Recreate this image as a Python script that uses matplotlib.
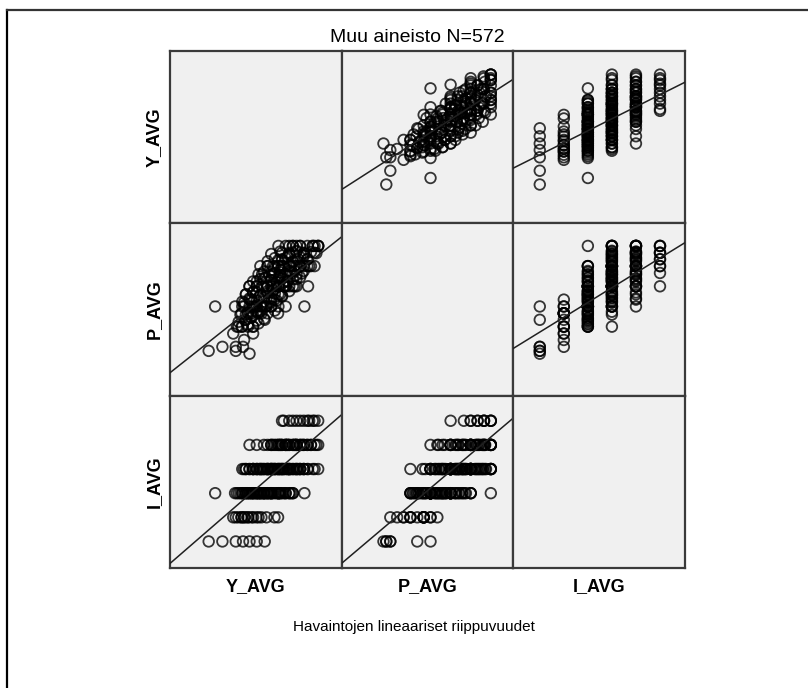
import matplotlib
matplotlib.use("Agg")
import matplotlib.pyplot as plt
from matplotlib.lines import Line2D
import numpy as np

plt.rcParams['font.family'] = ['Liberation Sans', 'DejaVu Sans']

title = "Muu aineisto N=572"
subtitle = "Havaintojen lineaariset riippuvuudet"
var_names = ["Y_AVG", "P_AVG", "I_AVG"]

# axis ranges of each variable (SPSS auto range)
y_limits = (0.9, 5.65)
p_limits = (0.79, 5.06)
i_limits = (1.95, 5.52)

# observations grouped by I_AVG level (Y_AVG, P_AVG pairs)
i_levels = [2.5, 3.0, 3.5, 4.0, 4.5, 5.0]

y_i1 = [1.97, 2.35, 2.72, 2.92, 3.10, 3.30, 3.52]
p_i1 = [1.90, 2.00, 1.90, 2.00, 1.83, 3.00, 2.67]

y_i2 = [2.65, 2.72, 2.79, 2.88, 2.88, 2.95, 2.97, 3.06, 3.06, 3.16, 3.20, 3.29, 3.35, 3.43, 3.57, 3.79, 3.89]
p_i2 = [2.33, 2.00, 2.50, 2.50, 2.83, 2.17, 2.67, 2.83, 2.50, 2.83, 2.33, 3.00, 2.83, 2.83, 3.00, 3.17, 2.83]

y_i3 = [2.75, 2.90, 3.05, 3.20, 3.35,
        2.80, 3.00, 3.15, 3.30, 3.50,
        2.85, 3.05, 3.20, 3.40, 3.60, 3.80,
        2.15, 2.70, 2.90, 3.10, 3.25, 3.40, 3.55, 3.70, 3.90, 4.10, 4.62,
        2.95, 3.15, 3.35, 3.50, 3.65, 3.85, 4.00,
        3.00, 3.20, 3.40, 3.60, 3.75, 3.95, 4.20,
        3.10, 3.30, 3.50, 3.70, 3.90, 4.10, 4.30,
        3.30, 3.50, 3.70, 3.90, 4.05,
        3.45, 3.70, 3.95, 4.20,
        3.60, 3.90, 4.25,
        4.30]
p_i3 = [2.50, 2.50, 2.55, 2.50, 2.58,
        2.62, 2.67, 2.72, 2.65, 2.70,
        2.80, 2.85, 2.78, 2.88, 2.83, 2.90,
        3.00, 3.00, 3.00, 3.00, 3.00, 3.00, 3.00, 3.00, 3.00, 3.00, 3.00,
        3.10, 3.17, 3.22, 3.12, 3.20, 3.15, 3.25,
        3.30, 3.36, 3.28, 3.33, 3.40, 3.30, 3.38,
        3.50, 3.50, 3.50, 3.50, 3.50, 3.50, 3.50,
        3.62, 3.70, 3.65, 3.72, 3.60,
        3.80, 3.85, 3.78, 3.88,
        4.00, 4.00, 4.00,
        4.50]

y_i4 = [3.20,
        3.00, 3.30,
        2.95, 3.20, 3.45, 3.70,
        2.90, 3.10, 3.30, 3.50, 3.70,
        3.00, 3.20, 3.40, 3.60, 3.80, 4.00,
        3.10, 3.30, 3.45, 3.60, 3.75, 3.90, 4.05, 4.20, 4.40, 4.72,
        3.20, 3.40, 3.55, 3.70, 3.85, 4.00, 4.15, 4.30, 4.50,
        3.35, 3.50, 3.65, 3.80, 3.95, 4.10, 4.25, 4.40, 4.60,
        3.40, 3.60, 3.75, 3.90, 4.05, 4.20, 4.35, 4.50, 4.70, 4.90,
        3.60, 3.80, 4.00, 4.15, 4.30, 4.45, 4.60,
        3.70, 3.95, 4.20, 4.40, 4.60,
        3.90, 4.20, 4.50, 4.85, 5.00]
p_i4 = [2.50,
        2.80, 2.87,
        3.00, 3.00, 3.00, 3.00,
        3.12, 3.20, 3.15, 3.22, 3.10,
        3.30, 3.35, 3.28, 3.38, 3.32, 3.27,
        3.50, 3.50, 3.50, 3.50, 3.50, 3.50, 3.50, 3.50, 3.50, 3.50,
        3.62, 3.68, 3.72, 3.65, 3.60, 3.70, 3.63, 3.67, 3.72,
        3.80, 3.86, 3.78, 3.83, 3.90, 3.80, 3.85, 3.78, 3.88,
        4.00, 4.00, 4.00, 4.00, 4.00, 4.00, 4.00, 4.00, 4.00, 4.00,
        4.12, 4.20, 4.15, 4.22, 4.10, 4.17, 4.25,
        4.30, 4.36, 4.28, 4.38, 4.32,
        4.50, 4.50, 4.50, 4.50, 4.50]

y_i5 = [3.50, 3.10, 3.70, 3.30, 3.90,
        3.60, 3.85, 4.10, 4.35,
        3.70, 3.95, 4.15, 4.40,
        3.75, 3.95, 4.15, 4.35, 4.55,
        3.80, 4.00, 4.20, 4.40, 4.60, 4.80,
        3.90, 4.10, 4.30, 4.50, 4.70,
        4.00, 4.20, 4.40, 4.60, 4.80, 4.95,
        4.10, 4.30, 4.50, 4.70, 4.90, 5.00]
p_i5 = [3.00, 3.17, 3.20, 3.35, 3.30,
        3.50, 3.50, 3.50, 3.50,
        3.65, 3.70, 3.62, 3.68,
        3.80, 3.85, 3.78, 3.88, 3.82,
        4.00, 4.00, 4.00, 4.00, 4.00, 4.00,
        4.15, 4.20, 4.12, 4.22, 4.17,
        4.33, 4.30, 4.36, 4.28, 4.35, 4.32,
        4.50, 4.50, 4.50, 4.50, 4.50, 4.50]

y_i6 = [4.05, 4.30, 4.50, 4.70, 4.60, 4.85, 5.00, 4.40, 4.20, 4.90, 4.75, 4.00]
p_i6 = [3.50, 3.83, 4.00, 4.17, 4.33, 4.50, 4.50, 4.50, 4.33, 4.33, 4.00, 4.17]

# fitted regression lines: (row var, column var) -> (intercept, slope)
fit_lines = {
    ("Y_AVG", "P_AVG"): (1.27, 0.712),
    ("Y_AVG", "I_AVG"): (1.13, 0.663),
    ("P_AVG", "Y_AVG"): (0.72, 0.709),
    ("P_AVG", "I_AVG"): (0.53, 0.734),
    ("I_AVG", "Y_AVG"): (1.46, 0.649),
    ("I_AVG", "P_AVG"): (1.49, 0.705),
}

y_groups = [y_i1, y_i2, y_i3, y_i4, y_i5, y_i6]
p_groups = [p_i1, p_i2, p_i3, p_i4, p_i5, p_i6]
y_avg = np.concatenate([np.array(g, float) for g in y_groups])
p_avg = np.concatenate([np.array(g, float) for g in p_groups])
i_avg = np.concatenate([np.full(len(g), lev) for g, lev in zip(y_groups, i_levels)])

data = {"Y_AVG": y_avg, "P_AVG": p_avg, "I_AVG": i_avg}
limits = {"Y_AVG": y_limits, "P_AVG": p_limits, "I_AVG": i_limits}

W, H = 808, 688
fig = plt.figure(figsize=(W / 100, H / 100), dpi=100)

gx0, gx1 = 170, 685
gy0, gy1 = 51, 568
cw = (gx1 - gx0) / 3
rh = (gy1 - gy0) / 3

for r, yv in enumerate(var_names):
    for c, xv in enumerate(var_names):
        ax = fig.add_axes([(gx0 + c * cw) / W, 1 - (gy0 + (r + 1) * rh) / H, cw / W, rh / H])
        ax.set_facecolor('#f0f0f0')
        ax.set_xlim(limits[xv])
        ax.set_ylim(limits[yv])
        ax.set_xticks([])
        ax.set_yticks([])
        for s in ax.spines.values():
            s.set_color('#3a3a3a')
            s.set_linewidth(1.6)
        if r != c:
            ax.scatter(data[xv], data[yv], s=58, facecolors='none',
                       edgecolors='#000000', linewidths=1.3, alpha=0.78, zorder=2)
            a, b = fit_lines[(yv, xv)]
            xs = np.array(limits[xv])
            ax.plot(xs, a + b * xs, color='#202020', lw=1.1, zorder=3)

# column and row labels
for c, name in enumerate(var_names):
    fig.text((gx0 + (c + 0.5) * cw) / W, 1 - 587 / H, name, ha='center', va='center',
             fontsize=13, fontweight='bold')
for r, name in enumerate(var_names):
    fig.text(154 / W, 1 - (gy0 + (r + 0.5) * rh) / H, name, ha='center', va='center',
             rotation=90, fontsize=13, fontweight='bold')

fig.text(417 / W, 1 - 37 / H, title, ha='center', va='center', fontsize=14)
fig.text(414 / W, 1 - 627 / H, subtitle, ha='center', va='center', fontsize=11)

# outer frame (left and top edges)
fig.add_artist(Line2D([7 / W, 7 / W], [0, 1 - 10 / H], transform=fig.transFigure,
                      color='black', lw=1.6))
fig.add_artist(Line2D([7 / W, 1], [1 - 10 / H, 1 - 10 / H], transform=fig.transFigure,
                      color='#333333', lw=1.6))

fig.savefig("out.png", dpi=100, facecolor='white')
